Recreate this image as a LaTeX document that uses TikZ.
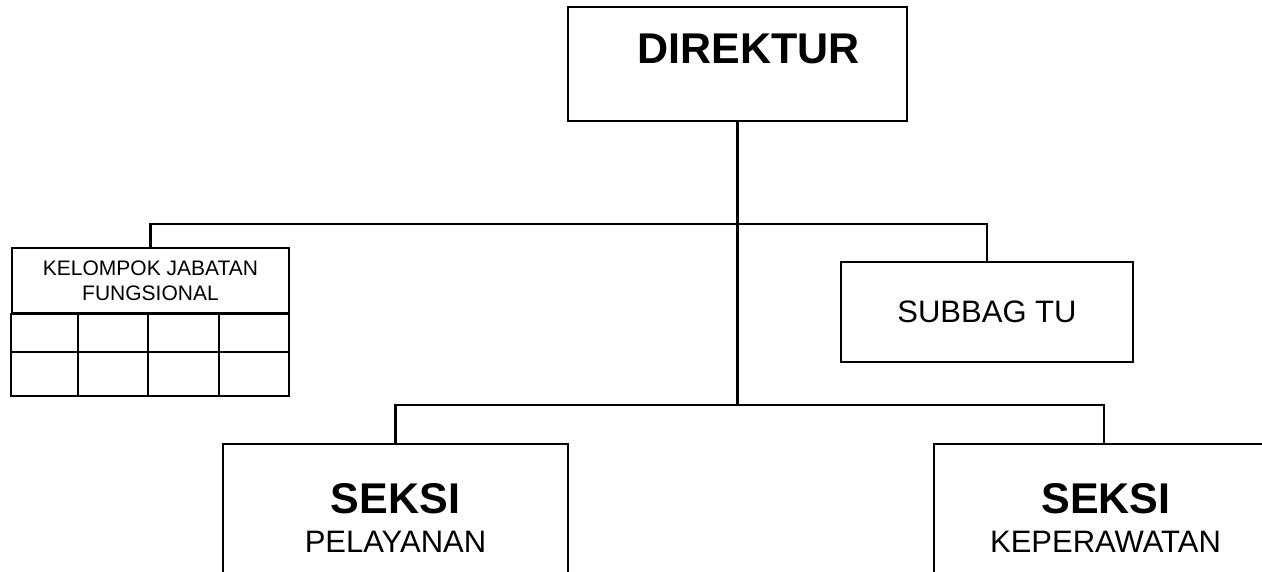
\documentclass[tikz,border=0pt]{standalone}
\usepackage{fontspec}
\setmainfont{Liberation Sans}

\begin{document}
\begin{tikzpicture}[x=1pt, y=-1pt, line width=2.2pt,
    unitbox/.style ={rectangle, draw, line width=2.2pt, inner sep=0pt},
    headtext/.style ={font=\fontsize{43}{46}\selectfont\bfseries},
    nametext/.style ={font=\fontsize{31}{34}\selectfont}]
   \useasboundingbox (0,0) rectangle (1262,571);
   \clip (0,0) rectangle (1262,571);

   \node[unitbox, minimum width=339, minimum height=114] (dir) at (737.5,64) {};
   \node[headtext] (dirtext) at (748.5,49) {DIREKTUR};

   \node[unitbox, minimum width=277, minimum height=65, align=center,
         font=\fontsize{21}{25}\selectfont] (kjf) at (150.5,280.5) {KELOMPOK JABATAN\\FUNGSIONAL};
   \draw[line width=1.8pt] (kjf.south west) rectangle (289,396);
   \draw[line width=1.8pt] (12,352) -- (289,352);
   \draw[line width=1.8pt] (78,313) -- (78,396);
   \draw[line width=1.8pt] (148,313) -- (148,396);
   \draw[line width=1.8pt] (219,313) -- (219,396);

   \node[unitbox, nametext, minimum width=292, minimum height=100] (sub) at (987,312) {SUBBAG TU};

   \node[unitbox, minimum width=345, minimum height=176] (sp) at (395.5,532) {};
   \node[headtext] (sptitle) at (395.5,499) {SEKSI};
   \node[nametext] (spname) at (395.5,541.5) {PELAYANAN};

   \node[unitbox, minimum width=340, minimum height=176] (sk) at (1104,532) {};
   \node[headtext] (sktitle) at (1106,499) {SEKSI};
   \node[nametext] (skname) at (1105.5,541.5) {KEPERAWATAN};

   \coordinate (topbus) at (737.5,224);
   \coordinate (lowbus) at (737.5,405);

   \draw (dir.south) -- (lowbus);
   \draw (kjf.north) |- (topbus) -| (sub.north);
   \draw (sp.north) |- (lowbus) -| (sk.north);
\end{tikzpicture}
\end{document}
